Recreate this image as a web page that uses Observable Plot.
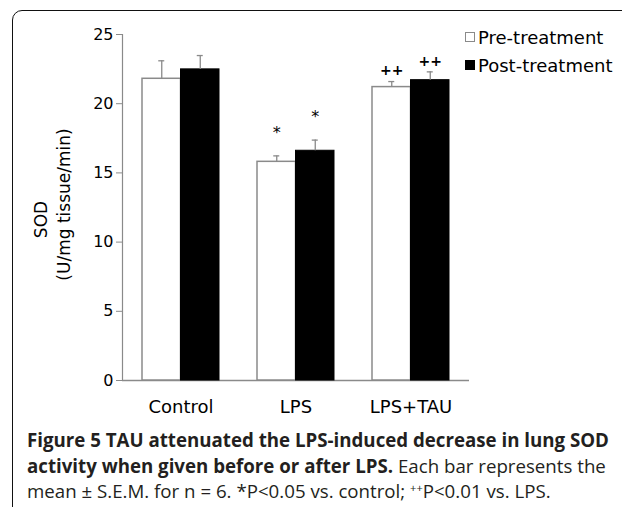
<!DOCTYPE html>
<html>
<head>
<meta charset="utf-8">
<script src="https://cdn.jsdelivr.net/npm/d3@7"></script>
<script src="https://cdn.jsdelivr.net/npm/@observablehq/plot@0.6"></script>
<style>
  html, body { margin: 0; padding: 0; background: #fff; }
  body { width: 622px; height: 507px; overflow: hidden; position: relative; }
  #frame { position: absolute; left: 12px; top: 10px; width: 700px; height: 600px;
           border: 1.5px solid #111; border-top-left-radius: 10px; box-sizing: border-box; }
  #chart { position: absolute; left: 0; top: 0; }
  .legend { position: absolute; left: 465px; font-family: "DejaVu Sans", sans-serif; font-size: 18px; color: #000; }
  .legend .item { position: absolute; white-space: nowrap; height: 20px; line-height: 20px; }
  .legend .sw { display: inline-block; width: 10px; height: 10px; box-sizing: border-box; vertical-align: middle; margin-right: 3px; position: relative; top: -2px; }
  #caption { position: absolute; left: 27px; top: 427px; font-family: "Open Sans", sans-serif; font-size: 18.7px;
             line-height: 25.7px; color: #231f20; white-space: nowrap; }
  #caption b { font-weight: 700; }
  #caption sup { font-size: 11px; line-height: 0; vertical-align: 6px; }
</style>
</head>
<body>
<div id="frame"></div>
<div id="chart"></div>
<div class="legend" id="legend"></div>
<div id="caption">
  <div><b>Figure 5 TAU attenuated the LPS-induced decrease in lung SOD</b></div>
  <div><b>activity when given before or after LPS.</b> Each bar represents the</div>
  <div>mean ± S.E.M. for n = 6. *P&lt;0.05 vs. control; <sup>++</sup>P&lt;0.01 vs. LPS.</div>
</div>
<script>
// ---- data ----
const groups = ["Control", "LPS", "LPS+TAU"];
const series = ["Pre-treatment", "Post-treatment"];
const preMean = [21.8, 15.8, 21.2];
const preSem = [1.3, 0.43, 0.4];
const postMean = [22.48, 16.6, 21.7];
const postSem = [1.0, 0.77, 0.6];
const preMark = ["", "*", "++"];
const postMark = ["", "*", "++"];
const yTicks = [0, 5, 10, 15, 20, 25];

const pre = groups.map((g, i) => ({group: g, mean: preMean[i], top: preMean[i] + preSem[i], mark: preMark[i]}));
const post = groups.map((g, i) => ({group: g, mean: postMean[i], top: postMean[i] + postSem[i], mark: postMark[i]}));

const half = 38.5;     // half of band width
const off = half / 2;  // center of each half-bar
const cap = 3;         // half-width of error caps
const grey = "#8a8a8a";
const font = "DejaVu Sans, sans-serif";

const plot = Plot.plot({
  width: 622,
  height: 420,
  marginLeft: 122,
  marginRight: 153,
  marginTop: 34,
  marginBottom: 40,
  style: {fontFamily: font, color: "#000", background: "transparent", overflow: "visible"},
  x: {domain: groups, paddingInner: 0.333, paddingOuter: 0.17, label: null},
  y: {domain: [0, 25], label: null},
  marks: [
    Plot.frame({anchor: "left", stroke: grey, strokeWidth: 1.2}),
    Plot.ruleY([0], {stroke: grey, strokeWidth: 1.5}),
    Plot.axisY({ticks: yTicks, tickSize: 6, tickPadding: 3, fontSize: 16, stroke: grey, label: null}),
    Plot.axisX({tickSize: 0, tickPadding: 20, fontSize: 18, label: null}),
    // pre-treatment bars (white, grey outline)
    Plot.barY(pre, {x: "group", y: "mean", insetRight: half, fill: "#fff", stroke: grey, strokeWidth: 1.5}),
    // post-treatment bars (black)
    Plot.barY(post, {x: "group", y: "mean", insetLeft: half, fill: "#000", stroke: "#000", strokeWidth: 1}),
    // error bars
    Plot.ruleX(pre, {x: "group", y1: "mean", y2: "top", dx: -off, stroke: grey, strokeWidth: 1.3}),
    Plot.ruleX(post, {x: "group", y1: "mean", y2: "top", dx: off, stroke: grey, strokeWidth: 1.3}),
    Plot.tickY(pre, {x: "group", y: "top", insetLeft: off - cap, insetRight: 2 * half - off - cap, stroke: grey, strokeWidth: 1.3}),
    Plot.tickY(post, {x: "group", y: "top", insetLeft: half + off - cap, insetRight: off - cap, stroke: grey, strokeWidth: 1.3}),
    // significance marks
    Plot.text(pre.filter(d => d.mark === "*"), {x: "group", y: "top", text: "mark", dx: -off, dy: -23, fontSize: 16, fill: "#000", lineAnchor: "middle"}),
    Plot.text(post.filter(d => d.mark === "*"), {x: "group", y: "top", text: "mark", dx: off, dy: -23, fontSize: 16, fill: "#000", lineAnchor: "middle"}),
    Plot.text(pre.filter(d => d.mark === "++"), {x: "group", y: "top", text: "mark", dx: -off, dy: -11, fontSize: 14, fontWeight: "bold", fill: "#000", lineAnchor: "middle"}),
    Plot.text(post.filter(d => d.mark === "++"), {x: "group", y: "top", text: "mark", dx: off, dy: -10, fontSize: 14, fontWeight: "bold", fill: "#000", lineAnchor: "middle"}),
    // y-axis title (two lines)
    Plot.text(["SOD"], {frameAnchor: "left", text: d => d, rotate: -90, dx: -81, dy: 12, fontSize: 17, textAnchor: "middle", lineAnchor: "middle"}),
    Plot.text(["(U/mg tissue/min)"], {frameAnchor: "left", text: d => d, rotate: -90, dx: -58, dy: -3, fontSize: 17, textAnchor: "middle", lineAnchor: "middle"})
  ]
});
document.getElementById("chart").appendChild(plot);

// legend
const legend = document.getElementById("legend");
const legendTops = [28, 56];
series.forEach((s, i) => {
  const item = document.createElement("div");
  item.className = "item";
  item.style.top = legendTops[i] + "px";
  const sw = document.createElement("span");
  sw.className = "sw";
  sw.style.background = i === 0 ? "#fff" : "#000";
  sw.style.border = i === 0 ? "1.2px solid " + grey : "1px solid #000";
  item.appendChild(sw);
  item.appendChild(document.createTextNode(s));
  legend.appendChild(item);
});
</script>
</body>
</html>
